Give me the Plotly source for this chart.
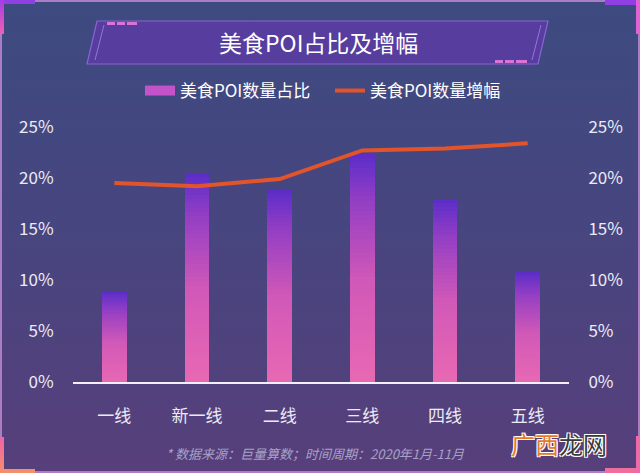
import base64
import plotly.graph_objects as go

# ---------------- data ----------------
categories = ["一线", "新一线", "二线", "三线", "四线", "五线"]
share_pct = [8.9, 20.5, 18.8, 22.4, 17.9, 10.8]      # 美食POI数量占比 (%)
growth_pct = [19.5, 19.2, 19.9, 22.7, 22.9, 23.4]    # 美食POI数量增幅 (%)
y_ticks = [0, 5, 10, 15, 20, 25]
y_ticktext = ["0%", "5%", "10%", "15%", "20%", "25%"]
series_names = ["美食POI数量占比", "美食POI数量增幅"]
title_text = "美食POI占比及增幅"
footer_text = "* 数据来源：巨量算数；时间周期：2020年1月-11月"

# ---------------- layout geometry ----------------
WIDTH, HEIGHT = 640, 473
L, R, T, B = 73, 569, 127, 382
PW, PH = R - L, B - T


def px(x):
    return (x - L) / PW


def py(y):
    return (B - y) / PH


FONT = "Noto Sans CJK SC, Noto Sans, sans-serif"

# ---------------- background (svg) ----------------
svg = f"""<svg xmlns="http://www.w3.org/2000/svg" width="{WIDTH}" height="{HEIGHT}" viewBox="0 0 {WIDTH} {HEIGHT}" preserveAspectRatio="none">
<defs>
<linearGradient id="bg" x1="0" y1="0" x2="0" y2="1">
<stop offset="0" stop-color="#3d4b7f"/><stop offset="0.5" stop-color="#48457f"/><stop offset="1" stop-color="#573f7b"/>
</linearGradient>
<linearGradient id="lv" x1="0" y1="0" x2="0" y2="1"><stop offset="0" stop-color="#a43ce6"/><stop offset="1" stop-color="#f25fb0"/></linearGradient>
<linearGradient id="lb" x1="0" y1="0" x2="0" y2="1"><stop offset="0" stop-color="#f062a8"/><stop offset="1" stop-color="#f5906a"/></linearGradient>
</defs>
<rect x="0" y="0" width="{WIDTH}" height="{HEIGHT}" fill="url(#bg)"/>
<rect x="1" y="1" width="{WIDTH-2}" height="{HEIGHT-2}" fill="none" stroke="#c48bd8" stroke-width="2" opacity="0.8"/>
<rect x="0" y="0" width="35" height="4" fill="#8f3fe2"/>
<rect x="0" y="0" width="4" height="34" fill="url(#lv)"/>
<rect x="605" y="0" width="35" height="5" fill="#8f3fe2"/>
<rect x="636" y="0" width="4" height="34" fill="#e062d4"/>
<rect x="0" y="437" width="4" height="36" fill="url(#lb)"/>
<rect x="0" y="469" width="35" height="4" fill="#f3906a"/>
<rect x="605" y="468" width="35" height="5" fill="#f06e9c"/>
<rect x="636" y="436" width="4" height="37" fill="#ee6aa8"/>
<polygon points="97,21 548,21 538,64 87,64" fill="#573d9d" stroke="#8c63d8" stroke-width="1.2"/>
<line x1="104" y1="25" x2="95" y2="60" stroke="#9a72e0" stroke-width="1"/>
<line x1="541" y1="25" x2="532" y2="60" stroke="#9a72e0" stroke-width="1"/>
<rect x="107" y="22" width="8" height="3" fill="#d874d4"/>
<rect x="117" y="22" width="8" height="3" fill="#d874d4"/>
<rect x="127" y="22" width="10" height="3" fill="#d874d4"/>
<rect x="495" y="60" width="8" height="3" fill="#d874d4"/>
<rect x="505" y="60" width="9" height="3" fill="#d874d4"/>
<rect x="516" y="60" width="11" height="3" fill="#d874d4"/>
</svg>"""
svg_uri = "data:image/svg+xml;base64," + base64.b64encode(svg.encode("utf-8")).decode("ascii")

# ---------------- bar gradient via stacked slices ----------------
N_SLICES = 48
stops = [(0.0, (0xE8, 0x68, 0xB2)), (0.45, (0xD0, 0x58, 0xB8)),
         (0.8, (0x92, 0x3E, 0xC4)), (1.0, (0x5A, 0x2C, 0xC8))]


def grad_color(t):
    for (t0, c0), (t1, c1) in zip(stops[:-1], stops[1:]):
        if t <= t1:
            f = (t - t0) / (t1 - t0) if t1 > t0 else 0
            c = [round(a + (b - a) * f) for a, b in zip(c0, c1)]
            return f"rgb({c[0]},{c[1]},{c[2]})"
    c = stops[-1][1]
    return f"rgb({c[0]},{c[1]},{c[2]})"


fig = go.Figure()
for k in range(N_SLICES):
    t = (k + 0.5) / N_SLICES
    col = grad_color(t)
    fig.add_trace(go.Bar(
        x=categories,
        y=[v / N_SLICES for v in share_pct],
        width=0.3,
        marker=dict(color=col, line=dict(width=0)),
        showlegend=False,
        hoverinfo="skip",
        yaxis="y",
    ))

# legend entry for bars (wide pink swatch)
fig.add_trace(go.Scatter(
    x=[None], y=[None], mode="lines", name=series_names[0],
    line=dict(color="#c452c8", width=10), yaxis="y",
))

# growth line on right axis
fig.add_trace(go.Scatter(
    x=categories, y=growth_pct, mode="lines", name=series_names[1],
    line=dict(color="#e2542a", width=4), yaxis="y2",
))

axis_font = dict(family=FONT, size=17, color="#ecebf5")

fig.update_layout(
    width=WIDTH, height=HEIGHT,
    margin=dict(l=L, r=WIDTH - R, t=T, b=HEIGHT - B, pad=0),
    paper_bgcolor="#48457f",
    plot_bgcolor="rgba(0,0,0,0)",
    barmode="stack",
    bargap=0,
    font=dict(family=FONT, color="white"),
    xaxis=dict(
        type="category", showgrid=False, zeroline=False,
        showline=True, linecolor="#f2f0fa", linewidth=1.5,
        ticks="outside", ticklen=18, tickcolor="rgba(0,0,0,0)",
        tickfont=axis_font, fixedrange=True,
    ),
    yaxis=dict(
        range=[0, 25], tickvals=y_ticks, ticktext=y_ticktext,
        showgrid=False, zeroline=False, showline=False,
        ticks="outside", ticklen=15, tickcolor="rgba(0,0,0,0)",
        tickfont=axis_font,
    ),
    yaxis2=dict(
        range=[0, 25], tickvals=y_ticks, ticktext=y_ticktext,
        overlaying="y", side="right",
        showgrid=False, zeroline=False, showline=False,
        ticks="outside", ticklen=15, tickcolor="rgba(0,0,0,0)",
        tickfont=axis_font,
    ),
    legend=dict(
        orientation="h", x=px(140), xanchor="left", y=py(91), yanchor="middle",
        font=dict(family=FONT, size=17, color="white"),
        bgcolor="rgba(0,0,0,0)", itemwidth=30, traceorder="normal",
        entrywidth=145,
    ),
    images=[dict(
        source=svg_uri, xref="paper", yref="paper",
        x=px(0), y=py(0), sizex=WIDTH / PW, sizey=HEIGHT / PH,
        xanchor="left", yanchor="top", sizing="stretch", layer="below",
    )],
    annotations=[
        dict(text=title_text, x=px(318), y=py(42), xref="paper", yref="paper",
             showarrow=False, xanchor="center", yanchor="middle",
             font=dict(family=FONT, size=23, color="white")),
        dict(text="<i>" + footer_text + "</i>", x=px(315), y=py(453),
             xref="paper", yref="paper", showarrow=False,
             xanchor="center", yanchor="middle",
             font=dict(family=FONT, size=13, color="#a8a2c8")),
        dict(text="<span style='color:#e8782a'>广西</span><span style='color:#3a3a3a'>龙网</span>",
             x=px(509), y=py(443), xref="paper", yref="paper", showarrow=False,
             xanchor="left", yanchor="middle",
             font=dict(family=FONT, size=24, color="#3a3a3a",
                       shadow="-1px -1px 0 #fff, 1px -1px 0 #fff, -1px 1px 0 #fff, 1px 1px 0 #fff")),
    ],
)

fig.write_html("out.html")
